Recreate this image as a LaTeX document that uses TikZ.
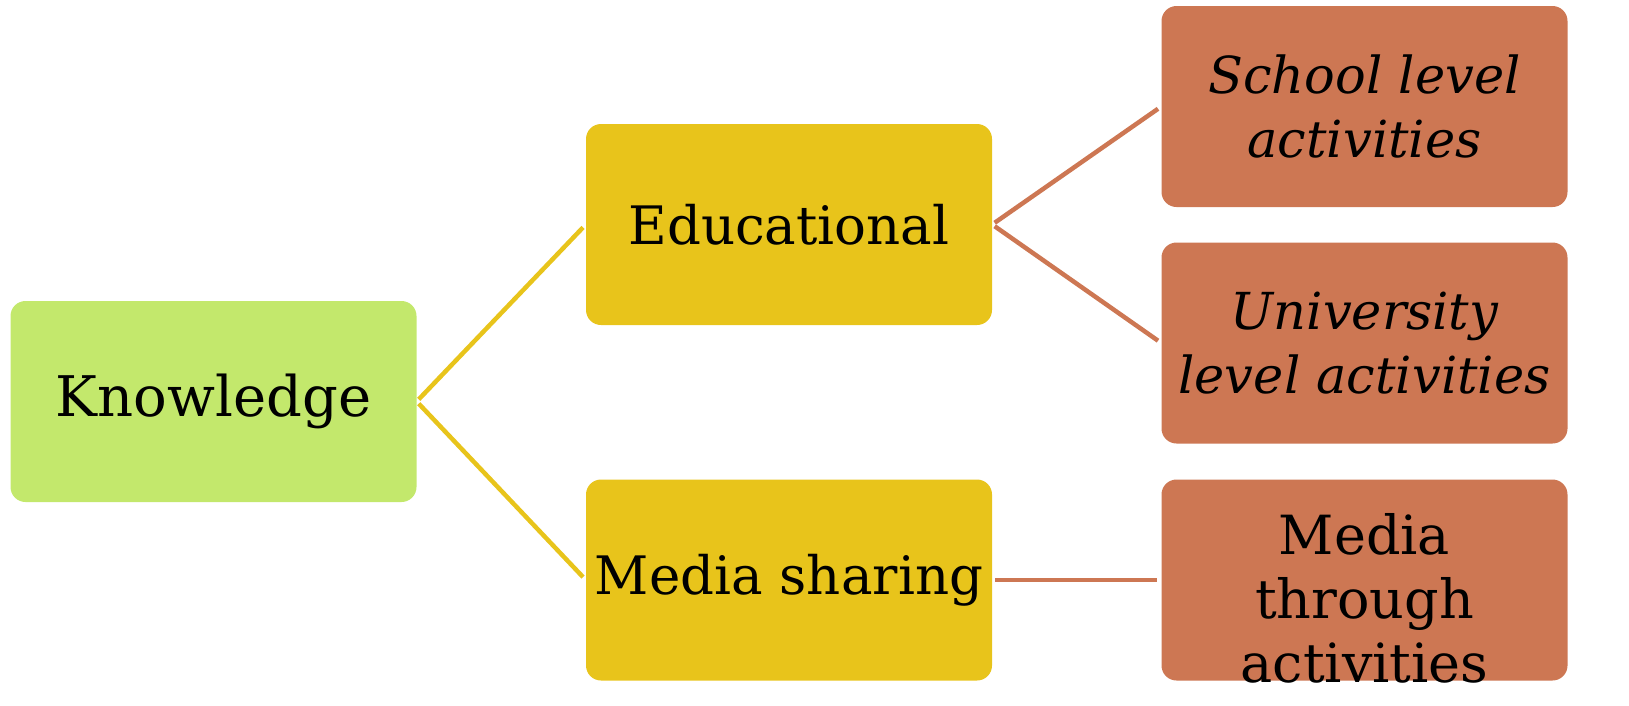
\documentclass[tikz,border=0pt]{standalone}
\usepackage{fontspec}
\setmainfont{DejaVu Serif}
\usepackage{tikz}
\definecolor{knowgreen}{HTML}{C3E86C}
\definecolor{edugold}{HTML}{E8C41B}
\definecolor{actorange}{HTML}{CD7753}
\begin{document}
\begin{tikzpicture}[x=1pt,y=-1pt,
	box/.style={rounded corners=15pt,minimum width=406pt,minimum height=201pt,
		inner sep=0pt,align=center,font=\fontsize{53}{64}\selectfont},
	rootbox/.style={box,fill=knowgreen,font=\fontsize{56}{64}\selectfont},
	midbox/.style={box,fill=edugold},
	leafbox/.style={box,fill=actorange,font=\fontsize{51}{64}\selectfont\itshape},
	link/.style={line width=4.5pt,shorten <=3pt,shorten >=4pt}]
\useasboundingbox (0,0) rectangle (1629,705);

% tree boxes
\node[rootbox] (know) at (213.5,401.5) {Knowledge};
\node[midbox] (edu) at (789,224.5) {Educational};
\node[midbox] (media) at (789,580) {Media sharing};
\node[leafbox] (school) at (1364.5,106.5) {School level\\activities};
\node[leafbox] (univ) at (1364.5,343) {University\\level activities};
\node[leafbox] (mthrough) at (1364.5,580) {};
\node[font=\fontsize{54}{64}\selectfont,align=center,inner sep=0pt] (mthroughtext) at (1364.5,598) {Media\\through\\activities};

% connectors
\draw[link,edugold] (know.east) -- (edu.west);
\draw[link,edugold] (know.east) -- (media.west);
\draw[link,actorange] (edu.east) -- (school.west);
\draw[link,actorange] (edu.east) -- (univ.west);
\draw[link,actorange] (media.east) -- (mthrough.west);

\end{tikzpicture}
\end{document}
